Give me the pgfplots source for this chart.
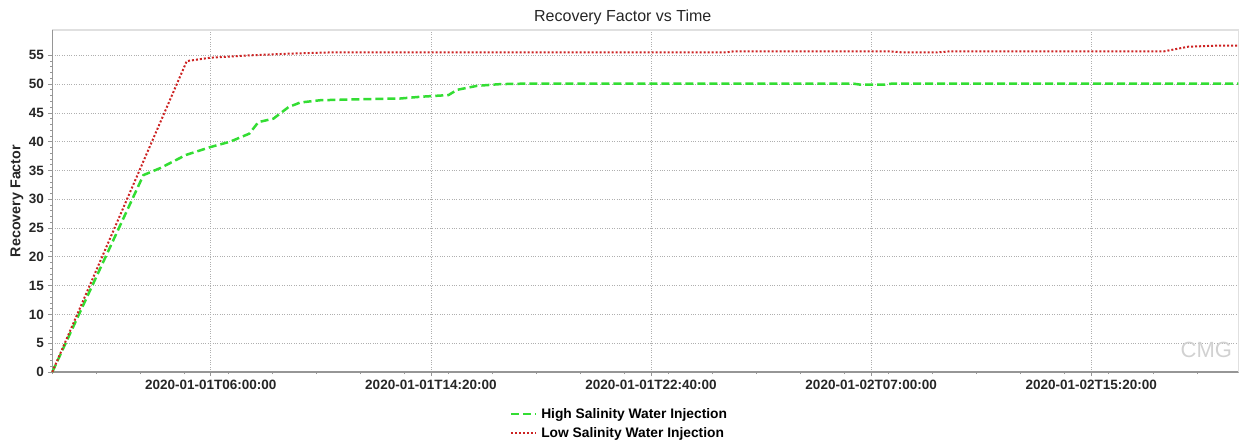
\documentclass[border=0pt]{standalone}
\usepackage{fontspec}
\setmainfont{Liberation Sans}
\usepackage{pgfplots}
\pgfplotsset{compat=1.18}
\definecolor{hsw}{RGB}{51,221,51}
\definecolor{lsw}{RGB}{204,34,34}
\definecolor{gridc}{RGB}{175,175,175}
\definecolor{axc}{RGB}{150,150,150}
\begin{document}
\begin{tikzpicture}
\path[use as bounding box] (0,0) rectangle (1240bp,441bp);
\begin{axis}[
  at={(52.3bp,69bp)}, anchor=south west,
  scale only axis, width=1186bp, height=342bp,
  xmin=0, xmax=44.9, ymin=0, ymax=59.4,
  /pgf/number format/assume math mode=true,
  xtick={6,14.33333,22.66667,31,39.33333},
  xticklabels={2020-01-01T06:00:00,2020-01-01T14:20:00,2020-01-01T22:40:00,2020-01-02T07:00:00,2020-01-02T15:20:00},
  minor xtick={0,1.66667,3.33333,5,6.66667,8.33333,10,11.66667,13.33333,15,16.66667,18.33333,20,21.66667,23.33333,25,26.66667,28.33333,30,31.66667,33.33333,35,36.66667,38.33333,40,41.66667,43.33333},
  ytick={0,5,...,55},
  minor y tick num=4,
  tick align=outside,
  major tick length=4bp, minor tick length=2bp,
  tick style={axc, line width=0.8bp},
  xtick pos=bottom, ytick pos=left,
  tick label style={font=\fontsize{13.5bp}{15bp}\selectfont\bfseries, text=black!85},
  xticklabel style={yshift=-1bp},
  yticklabel style={xshift=-1bp},
  grid=major,
  major grid style={gridc, dotted, line width=0.7bp},
  axis line style={draw=none},
  clip=false,
  legend style={at={(0.479,-0.151)}, anchor=center, draw=none, fill=none,
    font=\fontsize{13.8bp}{15bp}\selectfont\bfseries, row sep=6bp,
    legend cell align=left, nodes={inner xsep=4bp, inner ysep=1bp}},
  legend image code/.code={\draw[#1] (0bp,0bp) -- (25bp,0bp);},
]
\draw[black!12, line width=1.5bp] (rel axis cs:0,1) -- (rel axis cs:1,1) -- (rel axis cs:1,0);
\draw[axc, line width=1.5bp] (rel axis cs:0,1) -- (rel axis cs:0,0) -- (rel axis cs:1,0);

\addplot[hsw, line width=2.5bp, dash pattern=on 8bp off 4bp] coordinates {
(0,0) (3.45,34.2) (4.08,35.4) (5.06,37.7) (6.01,39.1) (6.73,40.0) (7.46,41.4)
(7.80,43.4) (8.37,44.0) (8.94,46.0) (9.38,46.8) (10.14,47.2) (11.91,47.4)
(13.17,47.5) (13.93,47.8) (15.0,48.1) (15.32,49.0) (16.08,49.7) (16.96,50.0)
(18.1,50.1) (30.3,50.1) (30.6,49.9) (31.5,49.9) (31.8,50.1) (44.9,50.1)
};
\addlegendentry{High Salinity Water Injection}

\addplot[lsw, line width=2bp, dash pattern=on 2bp off 2bp] coordinates {
(0,0) (5.09,54.0) (6.0,54.6) (7.5,55.0) (9.0,55.3) (10.5,55.5) (25.5,55.5)
(25.8,55.7) (31.7,55.7) (32.2,55.5) (33.5,55.5) (34.0,55.7) (42.1,55.7)
(43.0,56.5) (44.2,56.7) (44.9,56.7)
};
\addlegendentry{Low Salinity Water Injection}

\node[anchor=south, font=\fontsize{16bp}{18bp}\selectfont, text=black!85] at (axis description cs:0.481,1.006) {Recovery Factor vs Time};
\node[rotate=90, font=\fontsize{14.3bp}{16bp}\selectfont\bfseries, text=black!85] at (axis description cs:-0.0298,0.5) {Recovery Factor};
\node[font=\fontsize{22bp}{24bp}\selectfont, text=black!18] at (axis description cs:0.973,0.066) {CMG};
\end{axis}
\end{tikzpicture}
\end{document}
